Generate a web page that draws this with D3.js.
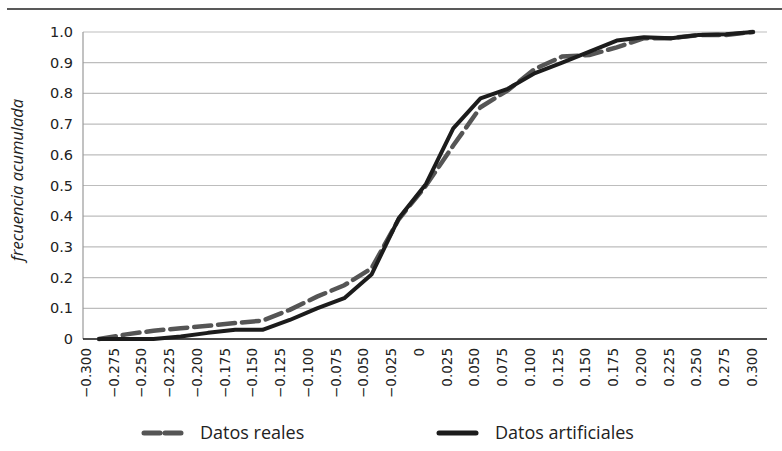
<!DOCTYPE html>
<html><head><meta charset="utf-8">
<script src="https://cdn.jsdelivr.net/npm/d3@7"></script>
<style>body{margin:0;background:#fff}svg{display:block}text{font-family:"Open Sans",sans-serif;fill:#222}.tk{font-family:"DejaVu Sans",sans-serif}</style>
</head><body><svg id="c" width="782" height="451"></svg>
<script>
const categories = ["−0.300","−0.275","−0.250","−0.225","−0.200","−0.175","−0.150","−0.125","−0.100","−0.075","−0.050","−0.025","0","0.025","0.050","0.075","0.100","0.125","0.150","0.175","0.200","0.225","0.250","0.275","0.300"];
const realValues = [0,0.015,0.027,0.035,0.043,0.052,0.06,0.095,0.138,0.175,0.23,0.39,0.5,0.63,0.755,0.81,0.88,0.92,0.925,0.95,0.98,0.98,0.99,0.99,1.0];
const artificialValues = [0,0,0,0.008,0.02,0.03,0.03,0.062,0.1,0.133,0.21,0.393,0.505,0.686,0.784,0.815,0.866,0.9,0.936,0.972,0.983,0.98,0.99,0.993,1.0];
const yTicks = [0,0.1,0.2,0.3,0.4,0.5,0.6,0.7,0.8,0.9,1.0];
const yTickLabels = ["0","0.1","0.2","0.3","0.4","0.5","0.6","0.7","0.8","0.9","1.0"];
const seriesNames = ["Datos reales","Datos artificiales"];

const svg = d3.select("#c");
const m = {l:83, r:767, t:32, b:339};
const x = d3.scalePoint().domain(categories).range([99, 753]);
const xl = d3.scalePoint().domain(categories).range([86, 752]);
const y = d3.scaleLinear().domain([0,1]).range([m.b, m.t]);

svg.append("line").attr("x1",7).attr("x2",782).attr("y1",9).attr("y2",9).attr("stroke","#222").attr("stroke-width",1.5);

svg.append("g").selectAll("line").data(yTicks.filter(d=>d>0)).join("line")
  .attr("x1",m.l).attr("x2",m.r).attr("y1",d=>y(d)).attr("y2",d=>y(d))
  .attr("stroke","#bdbdbd").attr("stroke-width",1.2);
svg.append("line").attr("x1",m.l).attr("x2",m.l).attr("y1",m.t).attr("y2",m.b).attr("stroke","#999").attr("stroke-width",1.2);
svg.append("line").attr("x1",m.l).attr("x2",m.r).attr("y1",m.b).attr("y2",m.b).attr("stroke","#111").attr("stroke-width",1.5);

svg.append("g").selectAll("text").data(yTicks).join("text").attr("class","tk")
  .attr("x",73).attr("y",d=>y(d)).attr("dy","0.35em").attr("text-anchor","end")
  .attr("font-size",14.5).text((d,i)=>yTickLabels[i]);

svg.append("g").selectAll("text").data(categories).join("text").attr("class","tk")
  .attr("transform",d=>`translate(${xl(d)},348) rotate(-90)`)
  .attr("dy","0.36em").attr("text-anchor","end").attr("font-size",13.5).text(d=>d);

svg.append("text").attr("transform","translate(23,180) rotate(-90)").attr("text-anchor","middle")
  .attr("font-size",16.5).attr("font-style","italic").text("frecuencia acumulada");

const line = d3.line().x((d,i)=>x(categories[i])).y(d=>y(d));
svg.append("path").datum(realValues).attr("d",line).attr("fill","none")
  .attr("stroke","#555").attr("stroke-width",4.5).attr("stroke-dasharray","17,7").attr("stroke-linecap","round");
svg.append("path").datum(artificialValues).attr("d",line).attr("fill","none")
  .attr("stroke","#1c1c1c").attr("stroke-width",4).attr("stroke-linejoin","round").attr("stroke-linecap","round");

const lg = svg.append("g");
lg.append("line").attr("x1",144).attr("x2",181).attr("y1",433).attr("y2",433).attr("stroke","#555").attr("stroke-width",5).attr("stroke-dasharray","16,5").attr("stroke-linecap","round");
lg.append("text").attr("x",200).attr("y",433).attr("dy","0.35em").attr("font-size",18).text(seriesNames[0]);
lg.append("line").attr("x1",439).attr("x2",476).attr("y1",433).attr("y2",433).attr("stroke","#1c1c1c").attr("stroke-width",5).attr("stroke-linecap","round");
lg.append("text").attr("x",495).attr("y",433).attr("dy","0.35em").attr("font-size",18).text(seriesNames[1]);
</script></body></html>
